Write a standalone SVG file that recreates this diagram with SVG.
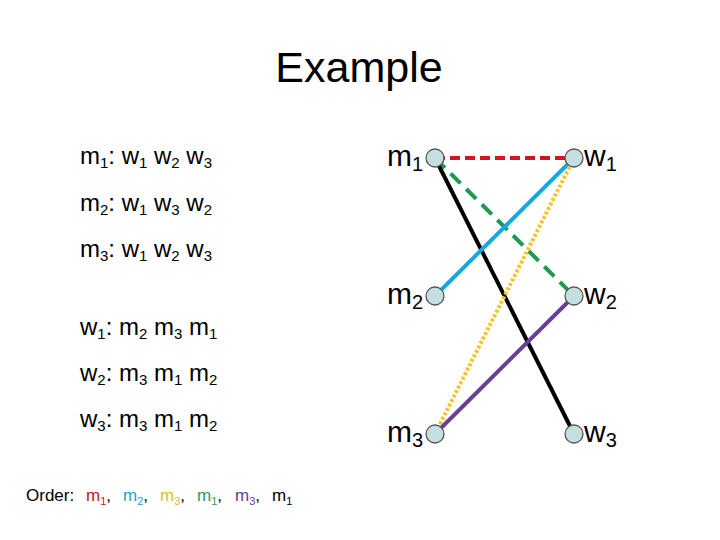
<svg xmlns="http://www.w3.org/2000/svg" width="720" height="540" viewBox="0 0 720 540">
<style>
text{font-family:"Liberation Sans",Arial,sans-serif;fill:#000}
.pref{font-size:24px}
.s{font-size:15px}
.lbl{font-size:30px}
.ls{font-size:20px}
.ord{font-size:17px}
.os{font-size:11px}
.node{fill:#c5dee0;stroke:#555;stroke-width:1.3}
.e{fill:none;stroke-width:4}
</style>
<rect width="720" height="540" fill="#fff"/>
<text x="359" y="82" font-size="43" text-anchor="middle">Example</text>
<g id="prefs">
<text class="pref" x="80" y="164">m<tspan class="s" dy="4">1</tspan><tspan dy="-4">: w</tspan><tspan class="s" dy="4">1</tspan><tspan dy="-4"> w</tspan><tspan class="s" dy="4">2</tspan><tspan dy="-4"> w</tspan><tspan class="s" dy="4">3</tspan></text>
<text class="pref" x="80" y="211">m<tspan class="s" dy="4">2</tspan><tspan dy="-4">: w</tspan><tspan class="s" dy="4">1</tspan><tspan dy="-4"> w</tspan><tspan class="s" dy="4">3</tspan><tspan dy="-4"> w</tspan><tspan class="s" dy="4">2</tspan></text>
<text class="pref" x="80" y="257">m<tspan class="s" dy="4">3</tspan><tspan dy="-4">: w</tspan><tspan class="s" dy="4">1</tspan><tspan dy="-4"> w</tspan><tspan class="s" dy="4">2</tspan><tspan dy="-4"> w</tspan><tspan class="s" dy="4">3</tspan></text>
<text class="pref" x="80" y="335">w<tspan class="s" dy="4">1</tspan><tspan dy="-4">: m</tspan><tspan class="s" dy="4">2</tspan><tspan dy="-4"> m</tspan><tspan class="s" dy="4">3</tspan><tspan dy="-4"> m</tspan><tspan class="s" dy="4">1</tspan></text>
<text class="pref" x="80" y="381">w<tspan class="s" dy="4">2</tspan><tspan dy="-4">: m</tspan><tspan class="s" dy="4">3</tspan><tspan dy="-4"> m</tspan><tspan class="s" dy="4">1</tspan><tspan dy="-4"> m</tspan><tspan class="s" dy="4">2</tspan></text>
<text class="pref" x="80" y="427">w<tspan class="s" dy="4">3</tspan><tspan dy="-4">: m</tspan><tspan class="s" dy="4">3</tspan><tspan dy="-4"> m</tspan><tspan class="s" dy="4">1</tspan><tspan dy="-4"> m</tspan><tspan class="s" dy="4">2</tspan></text>
</g>
<g id="order">
<text class="ord" x="26" y="501">Order:</text>
<text class="ord" x="86" y="501"><tspan fill="#c0171c">m</tspan><tspan class="os" fill="#c0171c" dy="4">1</tspan><tspan dy="-4">,</tspan></text>
<text class="ord" x="123" y="501"><tspan fill="#2aa0c8">m</tspan><tspan class="os" fill="#2aa0c8" dy="4">2</tspan><tspan dy="-4">,</tspan></text>
<text class="ord" x="160" y="501"><tspan fill="#e3be2a">m</tspan><tspan class="os" fill="#e3be2a" dy="4">3</tspan><tspan dy="-4">,</tspan></text>
<text class="ord" x="197" y="501"><tspan fill="#2e9a5c">m</tspan><tspan class="os" fill="#2e9a5c" dy="4">1</tspan><tspan dy="-4">,</tspan></text>
<text class="ord" x="235" y="501"><tspan fill="#6a3e90">m</tspan><tspan class="os" fill="#6a3e90" dy="4">3</tspan><tspan dy="-4">,</tspan></text>
<text class="ord" x="272" y="501">m<tspan class="os" dy="4">1</tspan></text>
</g>
<g id="edges">
<line class="e" x1="435" y1="158" x2="574" y2="158" stroke="#d0161e" stroke-dasharray="10,5"/>
<line class="e" x1="435" y1="158" x2="574" y2="296" stroke="#1b9a55" stroke-dasharray="14,8"/>
<line class="e" x1="435" y1="158" x2="574" y2="434" stroke="#000"/>
<line class="e" x1="574" y1="158" x2="435" y2="296" stroke="#13a8e0"/>
<line class="e" x1="574" y1="158" x2="435" y2="434" stroke="#f2c530" stroke-dasharray="3,2"/>
<line class="e" x1="574" y1="296" x2="435" y2="434" stroke="#6b3d9a"/>
</g>
<g id="m1"><circle class="node" cx="435" cy="158" r="9"/><text class="lbl" x="387" y="166">m<tspan class="ls" dy="5">1</tspan></text></g>
<g id="w1"><circle class="node" cx="574" cy="158" r="9"/><text class="lbl" x="584" y="166">w<tspan class="ls" dy="5">1</tspan></text></g>
<g id="m2"><circle class="node" cx="435" cy="296" r="9"/><text class="lbl" x="387" y="304">m<tspan class="ls" dy="5">2</tspan></text></g>
<g id="w2"><circle class="node" cx="574" cy="296" r="9"/><text class="lbl" x="584" y="304">w<tspan class="ls" dy="5">2</tspan></text></g>
<g id="m3"><circle class="node" cx="435" cy="434" r="9"/><text class="lbl" x="387" y="442">m<tspan class="ls" dy="5">3</tspan></text></g>
<g id="w3"><circle class="node" cx="574" cy="434" r="9"/><text class="lbl" x="584" y="442">w<tspan class="ls" dy="5">3</tspan></text></g>
</svg>
